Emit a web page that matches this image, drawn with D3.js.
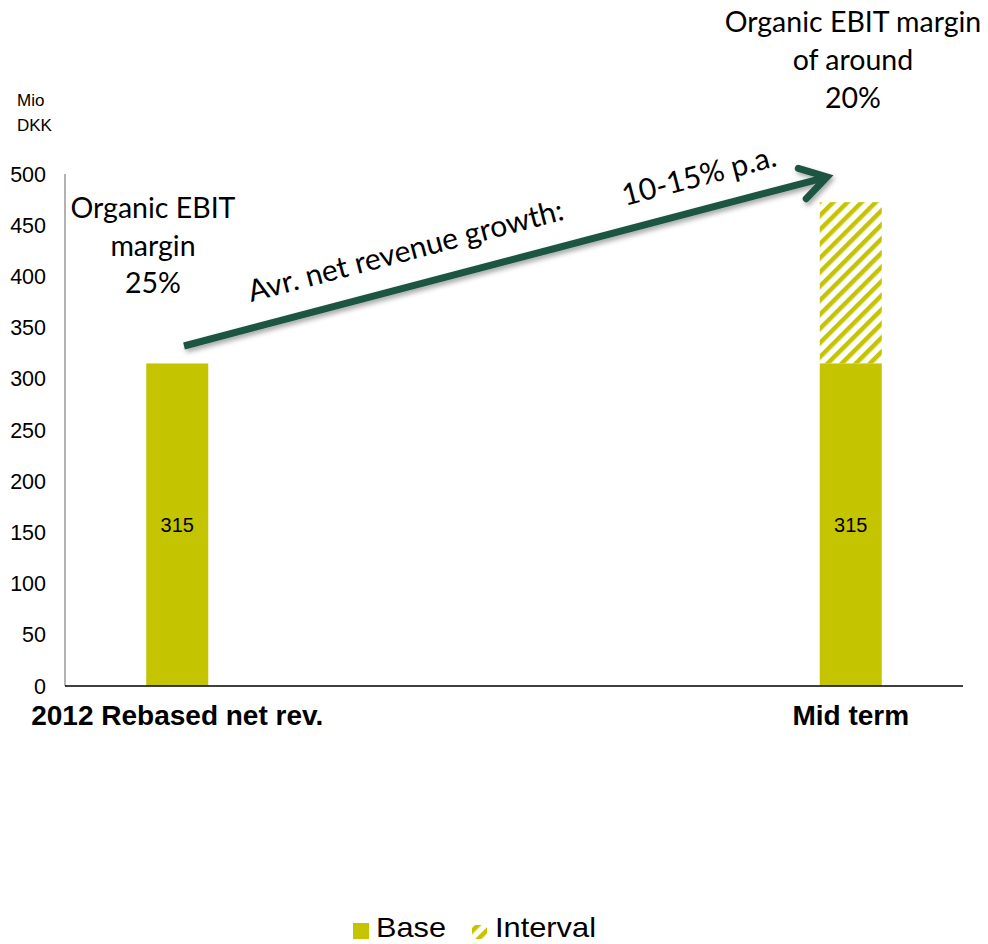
<!DOCTYPE html>
<html><head><meta charset="utf-8">
<script src="https://cdn.jsdelivr.net/npm/d3@7"></script>
<style>body{margin:0;background:#fff}</style>
</head><body>
<script>
const categories = ["2012 Rebased net rev.", "", " ", "Mid term"];
const baseValues = [315, null, null, 315];
const intervalValues = [0, null, null, 157.5];
const yTicks = [0, 50, 100, 150, 200, 250, 300, 350, 400, 450, 500];
const legendLabels = ["Base", "Interval"];

const W = 988, H = 944;
const SANS = "'Liberation Sans', Arial, sans-serif";
const CAL = "Lato, 'Open Sans', sans-serif";
const svg = d3.select("body").append("svg").attr("width", W).attr("height", H);
const defs = svg.append("defs");
const barColor = "#c5c400";
const pat = defs.append("pattern").attr("id","hatch").attr("patternUnits","userSpaceOnUse")
  .attr("width",10).attr("height",10).attr("patternTransform","rotate(45)");
pat.append("rect").attr("width",4.5).attr("height",10).attr("fill",barColor);
const f = defs.append("filter").attr("id","shadow").attr("x","-10%").attr("y","-50%").attr("width","120%").attr("height","200%");
f.append("feDropShadow").attr("dx",2).attr("dy",3).attr("stdDeviation",2.5).attr("flood-color","#000").attr("flood-opacity",0.35);

const x = d3.scaleBand().domain(categories).range([65, 963]);
const y = d3.scaleLinear().domain([0, 500]).range([686, 174]);
const bw = 62;

// y axis
svg.append("line").attr("x1",65).attr("x2",65).attr("y1",y(500)).attr("y2",y(0)).attr("stroke","#999").attr("stroke-width",1.5);
svg.selectAll(".yt").data(yTicks).enter().append("text")
  .attr("x",46).attr("y",d=>y(d)+7.5).attr("text-anchor","end")
  .attr("font-family",SANS).attr("font-size",21.5).attr("fill","#000").text(d=>d);

// bars
const data = categories.map((c,i)=>({c, b: baseValues[i], v: intervalValues[i]})).filter(d=>d.b!=null);
svg.selectAll(".base").data(data).enter().append("rect")
  .attr("x",d=>x(d.c)+x.bandwidth()/2-bw/2).attr("width",bw)
  .attr("y",d=>y(d.b)).attr("height",d=>y(0)-y(d.b)).attr("fill",barColor);
svg.selectAll(".intv").data(data.filter(d=>d.v>0)).enter().append("rect")
  .attr("x",d=>x(d.c)+x.bandwidth()/2-bw/2).attr("width",bw)
  .attr("y",d=>y(d.b+d.v)).attr("height",d=>y(d.b)-y(d.b+d.v)).attr("fill","url(#hatch)");
svg.selectAll(".vl").data(data).enter().append("text")
  .attr("x",d=>x(d.c)+x.bandwidth()/2).attr("y",d=>y(d.b/2)+7.5).attr("text-anchor","middle")
  .attr("font-family",SANS).attr("font-size",20).text(d=>d.b);

// x axis
svg.append("line").attr("x1",65).attr("x2",963).attr("y1",y(0)).attr("y2",y(0)).attr("stroke","#000").attr("stroke-width",1.5);
svg.selectAll(".xl").data(categories.filter(c=>c.trim()!=="")).enter().append("text")
  .attr("x",d=>x(d)+x.bandwidth()/2).attr("y",725).attr("text-anchor","middle")
  .attr("font-family",SANS).attr("font-weight","bold").attr("font-size",28).text(d=>d);

// unit
const u = svg.append("text").attr("font-family",SANS).attr("font-size",17);
u.append("tspan").attr("x",17).attr("y",106).text("Mio");
u.append("tspan").attr("x",17).attr("y",131).text("DKK");

// annotations
const ann = (lines, cx, y0, dy) => {
  const t = svg.append("text").attr("text-anchor","middle").attr("font-family",CAL).attr("font-size",28.5);
  lines.forEach((l,i)=>t.append("tspan").attr("x",cx).attr("y",y0+i*dy).text(l));
};
ann(["Organic EBIT","margin","25%"], 153, 218, 37.5);
ann(["Organic EBIT margin","of around","20%"], 853, 32, 38);

// arrow
const x0=184, y0=346, x1=827, y1=177;
const ang = Math.atan2(y1-y0, x1-x0);
const g = svg.append("g").attr("filter","url(#shadow)");
g.append("line").attr("x1",x0).attr("y1",y0).attr("x2",x1-4*Math.cos(ang)).attr("y2",y1-4*Math.sin(ang))
  .attr("stroke","#1a5643").attr("stroke-width",7);
const hl = 30, ha = 0.55;
g.append("path").attr("d",`M${x1-hl*Math.cos(ang-ha)},${y1-hl*Math.sin(ang-ha)} L${x1},${y1} L${x1-hl*Math.cos(ang+ha)},${y1-hl*Math.sin(ang+ha)}`)
  .attr("fill","none").attr("stroke","#1a5643").attr("stroke-width",7).attr("stroke-linecap","round").attr("stroke-linejoin","miter");
const deg = ang*180/Math.PI;
svg.append("text").attr("transform",`translate(251,302) rotate(${deg})`)
  .attr("font-family",CAL).attr("font-size",30).text("Avr. net revenue growth:");
svg.append("text").attr("transform",`translate(625,206) rotate(${deg})`)
  .attr("font-family",CAL).attr("font-size",30).text("10-15% p.a.");

// legend
svg.append("rect").attr("x",353).attr("y",923).attr("width",16).attr("height",16).attr("fill",barColor);
svg.append("text").attr("x",376).attr("y",937).attr("font-family",SANS).attr("font-size",28)
  .attr("textLength",70).attr("lengthAdjust","spacingAndGlyphs").text(legendLabels[0]);
svg.append("rect").attr("x",472).attr("y",925).attr("width",15).attr("height",14).attr("fill","url(#hatch)");
svg.append("text").attr("x",495).attr("y",937).attr("font-family",SANS).attr("font-size",28)
  .attr("textLength",101).attr("lengthAdjust","spacingAndGlyphs").text(legendLabels[1]);
</script>
</body></html>
